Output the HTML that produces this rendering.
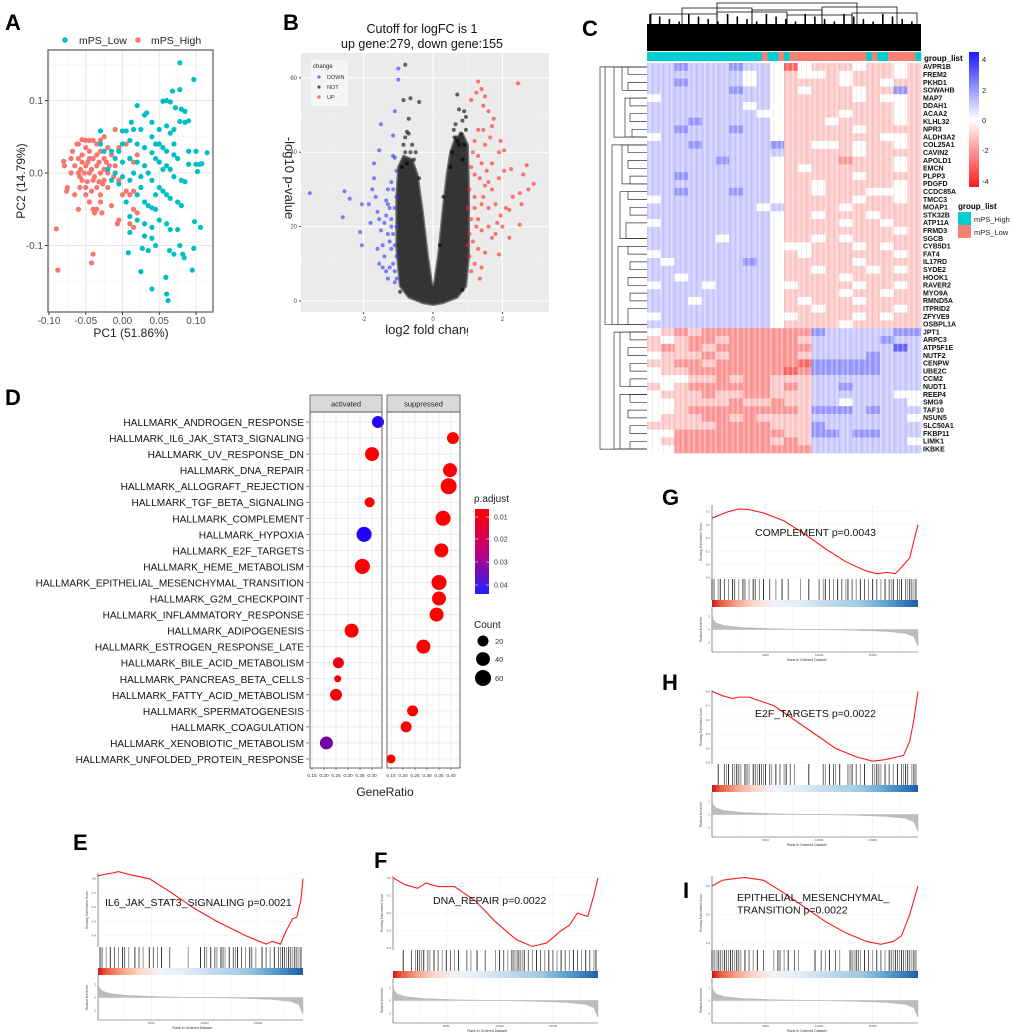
<!DOCTYPE html>
<html><head><meta charset="utf-8"><style>
html,body{margin:0;padding:0;background:#fff;}
svg{display:block;font-family:"Liberation Sans",Arial,sans-serif;}
</style></head><body>
<svg id="fig" width="1020" height="1032" viewBox="0 0 1020 1032" xmlns="http://www.w3.org/2000/svg">
<defs>
<linearGradient id="strip" x1="0" x2="1" y1="0" y2="0">
<stop offset="0" stop-color="#c8161d"/><stop offset="0.04" stop-color="#ee5a3e"/><stop offset="0.12" stop-color="#f7a488"/><stop offset="0.2" stop-color="#fbd6c6"/><stop offset="0.3" stop-color="#f4f2f6"/><stop offset="0.42" stop-color="#e3ecf7"/><stop offset="0.55" stop-color="#c6dbef"/><stop offset="0.72" stop-color="#9ecae1"/><stop offset="0.85" stop-color="#5a9fd0"/><stop offset="1" stop-color="#1c5fa8"/>
</linearGradient>
<linearGradient id="hmbar" x1="0" x2="0" y1="0" y2="1"><stop offset="0" stop-color="#1a1aff"/><stop offset="0.5" stop-color="#ffffff"/><stop offset="1" stop-color="#ff1a1a"/></linearGradient>
<linearGradient id="pbar" x1="0" x2="0" y1="0" y2="1"><stop offset="0" stop-color="#ff0000"/><stop offset="0.5" stop-color="#c0007a"/><stop offset="1" stop-color="#2020ff"/></linearGradient>
<clipPath id="volxclip"><rect x="385" y="318" width="83" height="20"/></clipPath>
<pattern id="hmtex" width="11" height="8" patternUnits="userSpaceOnUse"><rect x="0" y="0" width="1.5" height="8" fill="#fff" opacity="0.35"/><rect x="3" y="0" width="1" height="8" fill="#000" opacity="0.06"/><rect x="6" y="0" width="2" height="8" fill="#fff" opacity="0.2"/><rect x="9" y="0" width="1" height="8" fill="#000" opacity="0.04"/></pattern>
</defs>
</svg>
<script>
// ---------------- DATA ----------------
const pcaLow=[[0.078,0.152],[0.097,0.129],[0.068,0.113],[0.078,0.115],[0.055,0.099],[0.06,0.1],[0.065,0.098],[0.072,0.09],[0.08,0.088],[0.085,0.085],[0.02,0.093],[0.03,0.08],[0.033,0.083],[0.04,0.07],[0.05,0.06],[0.06,0.065],[0.065,0.055],[0.07,0.06],[0.085,0.07],[0.09,0.072],[0.078,0.071],[0.005,0.058],[0.0,0.058],[-0.03,0.058],[0.015,0.06],[0.025,0.06],[0.04,0.05],[0.05,0.04],[0.055,0.035],[0.06,0.03],[0.07,0.025],[0.075,0.02],[0.09,0.03],[0.1,0.03],[0.115,0.028],[0.09,0.012],[0.1,0.012],[0.105,0.012],[0.108,0.013],[0.102,0.002],[0.0,0.04],[0.01,0.045],[0.02,0.04],[0.03,0.035],[0.04,0.028],[0.045,0.02],[0.05,0.015],[0.06,0.01],[0.065,0.005],[0.07,-0.005],[0.08,-0.01],[0.085,-0.012],[0.01,0.02],[0.02,0.015],[0.03,0.01],[0.035,0.0],[0.04,-0.01],[0.05,-0.02],[0.055,-0.025],[0.06,-0.03],[0.065,-0.035],[0.075,-0.04],[0.08,-0.045],[0.03,-0.04],[0.035,-0.045],[0.04,-0.048],[0.045,-0.05],[0.02,-0.03],[0.025,-0.02],[0.01,-0.01],[0.0,-0.005],[-0.01,0.0],[-0.02,0.005],[-0.01,0.02],[0.0,0.015],[0.005,-0.04],[0.01,-0.06],[0.02,-0.065],[0.03,-0.07],[0.04,-0.075],[0.05,-0.065],[0.06,-0.07],[0.065,-0.078],[0.075,-0.078],[0.098,-0.067],[0.106,-0.075],[0.01,-0.082],[0.03,-0.087],[0.04,-0.09],[0.045,-0.1],[0.027,-0.104],[0.035,-0.107],[0.064,-0.107],[0.07,-0.112],[0.078,-0.1],[0.082,-0.112],[0.084,-0.117],[0.097,-0.104],[0.008,-0.11],[0.025,-0.136],[0.059,-0.144],[0.095,-0.134],[0.04,-0.16],[0.06,-0.167],[0.062,-0.176],[-0.015,0.03],[-0.025,0.03],[-0.03,0.04],[-0.005,0.03],[0.015,0.0],[0.025,-0.005],[-0.015,-0.01],[-0.005,-0.015],[0.012,0.07],[0.045,0.04],[0.055,0.005],[0.045,-0.03],[0.07,0.04]];
const pcaHigh=[[-0.09,-0.077],[-0.088,-0.134],[-0.04,-0.112],[-0.042,-0.124],[-0.075,-0.02],[-0.076,-0.025],[-0.08,0.016],[-0.079,0.01],[-0.07,0.02],[-0.068,0.03],[-0.065,0.01],[-0.06,0.0],[-0.06,0.02],[-0.06,0.04],[-0.055,0.046],[-0.055,-0.01],[-0.05,0.035],[-0.05,0.01],[-0.05,-0.02],[-0.05,-0.03],[-0.045,0.03],[-0.045,0.0],[-0.045,-0.04],[-0.04,0.045],[-0.04,0.02],[-0.04,-0.01],[-0.04,-0.05],[-0.035,0.04],[-0.035,0.01],[-0.035,-0.02],[-0.035,-0.05],[-0.03,0.03],[-0.03,0.0],[-0.03,-0.03],[-0.03,-0.04],[-0.025,0.02],[-0.025,-0.01],[-0.025,0.05],[-0.02,0.035],[-0.02,0.0],[-0.02,-0.02],[-0.015,0.025],[-0.015,-0.045],[-0.01,0.01],[-0.01,0.06],[-0.055,0.025],[-0.058,-0.02],[-0.065,-0.03],[-0.06,-0.05],[-0.038,-0.055],[-0.028,-0.055],[-0.005,-0.01],[0.0,-0.03],[0.005,-0.025],[0.01,-0.03],[0.015,-0.025],[0.01,0.02],[0.015,0.015],[0.02,0.025],[0.015,-0.05],[0.02,-0.055],[0.01,-0.07],[0.015,-0.075],[-0.005,-0.065],[-0.007,-0.07],[-0.062,0.04],[-0.07,0.0],[-0.052,0.0],[-0.047,0.015],[-0.042,0.005],[-0.032,0.015],[-0.022,0.015],[-0.018,0.01],[-0.012,-0.005],[-0.027,-0.015],[-0.042,-0.025],[-0.057,0.005],[-0.05,0.045],[-0.045,0.045],[-0.03,0.045],[-0.005,0.035],[0.005,0.04],[-0.055,0.015],[-0.045,0.02],[-0.035,0.025],[-0.025,0.005],[-0.038,-0.005],[-0.048,-0.012],[-0.058,-0.005],[-0.032,-0.012]];

const volDown=[[-3.55,29],[-2.55,29.5],[-2.6,22.5],[-2.1,18.5],[-2.05,26],[-2.4,27.5],[-2.05,15],[-1.7,37],[-1.55,40.5],[-1.5,47.5],[-1.7,33],[-1.75,30],[-1.65,28],[-1.6,24],[-1.55,22],[-1.5,19],[-1.45,15],[-1.55,10],[-1.35,27],[-1.3,26],[-1.25,25],[-1.2,22],[-1.2,20],[-1.15,18],[-1.1,15],[-1.05,12],[-1.3,30],[-1.2,32],[-1.1,38.5],[-1.15,39],[-1.15,44.5],[-1.1,51],[-1.0,59.5],[-1.0,62.5],[-1.05,35],[-1.3,18],[-1.25,16],[-1.2,14],[-1.15,10],[-1.1,8],[-1.05,6],[-1.4,12],[-1.45,9],[-1.35,8],[-1.25,9],[-1.4,21],[-1.35,23],[-1.05,28],[-1.1,25],[-1.05,20],[-1.15,30],[-1.8,21],[-1.85,26],[-1.6,14],[-1.3,6],[-1.1,5]];
const volUp=[[2.45,58.5],[1.3,59],[1.4,57],[1.25,56],[1.1,54],[1.5,55],[1.45,52.5],[1.6,51],[1.75,49],[1.9,40],[1.95,43],[2.05,40.5],[1.7,47],[1.45,46],[1.3,46],[1.2,43],[1.5,42],[1.65,44],[1.15,40],[1.3,39],[1.4,37],[1.55,35],[1.7,37],[1.1,36],[1.2,34],[1.35,33],[1.5,31],[1.7,30],[1.9,33],[2.05,35],[2.25,35.5],[2.7,36.5],[2.9,31.5],[2.6,34],[2.75,30],[2.5,29],[2.3,28],[2.1,25],[2.2,24.5],[1.05,30],[1.2,28],[1.4,26],[1.6,25],[1.8,26],[1.95,23],[1.1,22],[1.25,20],[1.4,19],[1.6,20],[1.8,18],[2.2,17],[2.55,26],[2.5,20.5],[1.05,18],[1.15,16],[1.3,14],[1.5,13],[1.7,17],[1.9,12.5],[1.05,12],[1.2,10],[1.4,9],[1.1,8],[1.35,6],[1.2,25],[1.3,22],[1.45,28],[1.6,32],[1.85,21],[2.0,20],[1.0,25],[1.0,15]];
const volNot=[[-0.8,63.5],[-0.65,54.5],[-0.85,54],[-0.4,53.5],[-0.7,49],[-0.75,45.5],[-0.8,44],[-0.7,45],[-0.6,42],[-0.8,40],[-0.65,40],[-0.55,38],[-0.75,37],[0.7,55.5],[0.75,51.5],[0.9,51],[0.95,49.5],[0.85,48.5],[0.65,47.5],[0.6,46],[0.95,46],[0.7,43],[0.75,42],[0.9,42],[0.55,40],[-0.95,2.5],[0.3,28],[0.2,15],[0.85,3],[-0.4,33],[-0.9,36],[0.85,38],[0.5,36],[-0.85,42],[-0.5,40],[0.62,44],[0.8,45]];
// dense-core envelope of the NOT cloud (logFC, -log10 p)
const volCore=[[-1.0,36],[-0.85,39],[-0.6,38],[-0.45,34],[-0.3,24],[-0.15,12],[-0.04,5],[0,4],[0.04,5],[0.15,12],[0.28,24],[0.4,34],[0.5,40],[0.65,44],[0.85,45],[1.0,42],[1.03,30],[1.03,12],[0.95,4],[0.7,1],[0.3,-0.5],[0,-1],[-0.3,-0.5],[-0.7,1],[-0.95,4],[-1.05,14],[-1.05,28]];

const genes=["AVPR1B","FREM2","PKHD1","SOWAHB","MAP7","DDAH1","ACAA2","KLHL32","NPR3","ALDH3A2","COL25A1","CAVIN2","APOLD1","EMCN","PLPP3","PDGFD","CCDC85A","TMCC3","MOAP1","STK32B","ATP11A","FRMD3","SGCB","CYB5D1","FAT4","IL17RD","SYDE2","HOOK1","RAVER2","MYO9A","RMND5A","ITPRID2","ZFYVE9","OSBPL1A","JPT1","ARPC3","ATP5F1E","NUTF2","CENPW","UBE2C","CCM2","NUDT1","REEP4","SMG9","TAF10","NSUN5","SLC50A1","FKBP11","LIMK1","IKBKE"];
// z-score per column block, encoded digit-3 (blue positive)
const heatRows=["44544454430322232232","44444443432332322232","44544443432222322322","44444454432322232252","34444444432222232332","44444443432222222232","44444444332222322232","44454444432223222232","44544454432222232222","34444444432222222332","44454444452233232232","44444444442222232222","44444544432222122232","44444444432322222232","44544444432222232222","44444444432232222232","44544454432232223332","34444444432222232232","44444444342222322222","44444444432232223222","34444444432222322322","44444444432222222232","44444344432232322222","44444444433322232322","34444444432322222232","43444445432222232222","44444444432232223232","44344444432222322222","34443444433222232232","44444444432222322322","44434444432322232222","44444444432232222232","34444444433222232322","44444444432222322222","32121111111154444455","23211211111244444544","21212111111144444464","32221211111244445444","22112111111055555444","32211111110155555444","33322121122244444444","23211111121244544444","32221221122244444433","33222212212244344443","33211111111255545444","32221121222244444443","22222111122254444444","33111111112255455444","32111111121244444443","33111111111144444444"];
const colGroups="HHHHHHHHHHHHHHHHHHHHHLHHLHLLLLLLLLLLLLLLHLHHLLLLLH";

const hmTerms=["HALLMARK_ANDROGEN_RESPONSE","HALLMARK_IL6_JAK_STAT3_SIGNALING","HALLMARK_UV_RESPONSE_DN","HALLMARK_DNA_REPAIR","HALLMARK_ALLOGRAFT_REJECTION","HALLMARK_TGF_BETA_SIGNALING","HALLMARK_COMPLEMENT","HALLMARK_HYPOXIA","HALLMARK_E2F_TARGETS","HALLMARK_HEME_METABOLISM","HALLMARK_EPITHELIAL_MESENCHYMAL_TRANSITION","HALLMARK_G2M_CHECKPOINT","HALLMARK_INFLAMMATORY_RESPONSE","HALLMARK_ADIPOGENESIS","HALLMARK_ESTROGEN_RESPONSE_LATE","HALLMARK_BILE_ACID_METABOLISM","HALLMARK_PANCREAS_BETA_CELLS","HALLMARK_FATTY_ACID_METABOLISM","HALLMARK_SPERMATOGENESIS","HALLMARK_COAGULATION","HALLMARK_XENOBIOTIC_METABOLISM","HALLMARK_UNFOLDED_PROTEIN_RESPONSE"];
const hmFacet=["a","s","a","s","s","a","s","a","s","a","s","s","s","a","s","a","a","a","s","s","a","s"];
const hmRatio=[0.425,0.408,0.40,0.396,0.39,0.39,0.367,0.367,0.36,0.36,0.35,0.35,0.34,0.315,0.285,0.26,0.257,0.25,0.24,0.213,0.21,0.15];
const hmCount=[26,26,41,41,59,15,50,50,41,50,50,41,41,41,41,20,4,26,20,20,33,10];
const hmPadj=[0.045,0.006,0.006,0.006,0.006,0.006,0.006,0.045,0.006,0.006,0.006,0.006,0.006,0.006,0.006,0.009,0.006,0.007,0.006,0.006,0.031,0.006];

const gseaNames=["IL6_JAK_STAT3_SIGNALING p=0.0021","DNA_REPAIR p=0.0022","COMPLEMENT p=0.0043","E2F_TARGETS p=0.0022","EPITHELIAL_MESENCHYMAL_\nTRANSITION p=0.0022"];
const esE=[[0,0.02],[0.03,0.03],[0.07,0.04],[0.1,0.05],[0.15,0.03],[0.25,0.0],[0.36,-0.1],[0.46,-0.2],[0.58,-0.3],[0.72,-0.4],[0.82,-0.46],[0.85,-0.44],[0.89,-0.46],[0.92,-0.36],[0.95,-0.28],[0.97,-0.27],[0.99,-0.15],[1.0,0.0]];
const esF=[[0,0],[0.06,-0.04],[0.12,-0.06],[0.16,-0.03],[0.22,-0.05],[0.3,-0.05],[0.4,-0.13],[0.5,-0.25],[0.6,-0.35],[0.68,-0.39],[0.75,-0.37],[0.82,-0.3],[0.86,-0.27],[0.9,-0.2],[0.95,-0.22],[0.98,-0.1],[1.0,0.0]];
const esG=[[0,0.05],[0.03,0.07],[0.08,0.1],[0.13,0.12],[0.18,0.115],[0.25,0.09],[0.35,0.03],[0.45,-0.07],[0.55,-0.18],[0.65,-0.28],[0.75,-0.35],[0.8,-0.37],[0.85,-0.36],[0.89,-0.37],[0.92,-0.32],[0.96,-0.25],[0.98,-0.12],[1.0,0.0]];
const esH=[[0,0],[0.05,-0.03],[0.1,-0.05],[0.13,-0.04],[0.18,-0.04],[0.3,-0.1],[0.4,-0.2],[0.5,-0.3],[0.6,-0.4],[0.7,-0.46],[0.78,-0.49],[0.84,-0.48],[0.9,-0.46],[0.93,-0.45],[0.96,-0.35],[0.98,-0.2],[1.0,0.0]];
const esI=[[0,0.0],[0.05,0.04],[0.1,0.05],[0.16,0.06],[0.25,0.04],[0.35,-0.05],[0.45,-0.15],[0.55,-0.25],[0.65,-0.33],[0.75,-0.39],[0.82,-0.41],[0.88,-0.39],[0.92,-0.35],[0.96,-0.2],[1.0,0.0]];
const hitsE=[0.01,0.02,0.04,0.06,0.08,0.1,0.12,0.13,0.15,0.18,0.2,0.22,0.25,0.27,0.29,0.31,0.35,0.44,0.5,0.52,0.53,0.55,0.57,0.58,0.6,0.61,0.62,0.64,0.66,0.67,0.68,0.7,0.72,0.74,0.75,0.77,0.8,0.82,0.84,0.86,0.88,0.89,0.9,0.91,0.92,0.93,0.94,0.95,0.96,0.97,0.98,0.99];
const hitsF=[0.05,0.09,0.11,0.12,0.13,0.14,0.15,0.17,0.18,0.2,0.22,0.24,0.26,0.28,0.3,0.32,0.36,0.38,0.41,0.45,0.5,0.52,0.54,0.56,0.58,0.59,0.6,0.61,0.62,0.63,0.64,0.66,0.68,0.7,0.72,0.74,0.76,0.78,0.8,0.82,0.84,0.86,0.88,0.9,0.92,0.94,0.96,0.98,0.99];
const hitsG=[0.0,0.01,0.03,0.04,0.06,0.08,0.1,0.11,0.13,0.15,0.16,0.18,0.2,0.21,0.23,0.25,0.28,0.31,0.34,0.37,0.43,0.47,0.52,0.54,0.55,0.57,0.59,0.61,0.63,0.65,0.66,0.68,0.7,0.72,0.74,0.76,0.78,0.8,0.82,0.84,0.86,0.87,0.88,0.9,0.91,0.92,0.94,0.95,0.96,0.97,0.98,0.99];
const hitsH=[0.03,0.06,0.07,0.08,0.1,0.11,0.12,0.13,0.14,0.16,0.17,0.18,0.2,0.21,0.22,0.23,0.24,0.25,0.26,0.28,0.29,0.31,0.33,0.35,0.36,0.38,0.4,0.47,0.54,0.55,0.57,0.59,0.6,0.62,0.66,0.67,0.68,0.7,0.72,0.74,0.78,0.79,0.8,0.81,0.82,0.84,0.86,0.88,0.9,0.92,0.93,0.94,0.95,0.97,0.98,0.99];
const hitsI=[0.0,0.01,0.02,0.03,0.04,0.05,0.06,0.07,0.08,0.09,0.1,0.11,0.12,0.13,0.14,0.16,0.18,0.2,0.22,0.25,0.3,0.32,0.33,0.35,0.37,0.4,0.42,0.5,0.53,0.55,0.57,0.6,0.62,0.67,0.68,0.69,0.7,0.71,0.72,0.74,0.76,0.78,0.8,0.82,0.84,0.86,0.87,0.88,0.89,0.9,0.91,0.92,0.93,0.94,0.95,0.96,0.97,0.98,0.99];
const rankMetric=[[0,2.6],[0.005,1.6],[0.02,1.0],[0.06,0.6],[0.15,0.3],[0.3,0.12],[0.5,0.0],[0.7,-0.12],[0.85,-0.3],[0.94,-0.6],[0.98,-1.1],[1,-2.6]];

// ---------------- HELPERS ----------------
const NS='http://www.w3.org/2000/svg';
const svg=document.getElementById('fig');
function el(tag,attrs,parent){const e=document.createElementNS(NS,tag);for(const k in attrs)e.setAttribute(k,attrs[k]);(parent||svg).appendChild(e);return e;}
function txt(x,y,s,size,anchor,fill,parent,extra){const t=el('text',Object.assign({x:x,y:y,'font-size':size,'text-anchor':anchor||'start',fill:fill||'#000'},extra||{}),parent);t.textContent=s;return t;}
function grp(name){const g=el('g',{});return g;}

// panel letters
[["A",5,30],["B",283,30],["C",582,36],["D",5,405],["E",73,850],["F",374,868],["G",662,505],["H",662,690],["I",683,898]].forEach(function(p){
  const t=txt(p[1],p[2],p[0],22,'start','#000',svg,{'font-weight':'bold'});
  
  
});

// ---------------- PANEL A: PCA ----------------
(function(){
  const g=grp('pca-plot');
  const L=48,R=213,T=50,B=312;
  const xs=v=>49+(v+0.1)/0.2*147, ys=v=>173-v/0.1*72.5;
  const bg=el('rect',{x:L,y:T,width:R-L,height:B-T,fill:'#fff'},g);
  
  
  [-0.075,-0.025,0.025,0.075].forEach(v=>el('line',{x1:xs(v),x2:xs(v),y1:T,y2:B,stroke:'#f2f2f2','stroke-width':0.6},g));
  [-0.15,-0.05,0.05,0.15].forEach(v=>el('line',{x1:L,x2:R,y1:ys(v),y2:ys(v),stroke:'#f2f2f2','stroke-width':0.6},g));
  const xt=[-0.1,-0.05,0,0.05,0.1], xl=["-0.10","-0.05","0.00","0.05","0.10"];
  xt.forEach((v,i)=>{el('line',{x1:xs(v),x2:xs(v),y1:T,y2:B,stroke:'#e8e8e8','stroke-width':1},g);el('line',{x1:xs(v),x2:xs(v),y1:B,y2:B+3,stroke:'#333'},g);const t=txt(xs(v),B+12,xl[i],10,'middle','#4d4d4d',g);});
  const yt=[-0.1,0,0.1], yl=["-0.1","0.0","0.1"];
  yt.forEach((v,i)=>{el('line',{x1:L,x2:R,y1:ys(v),y2:ys(v),stroke:'#e8e8e8','stroke-width':1},g);el('line',{x1:L-3,x2:L,y1:ys(v),y2:ys(v),stroke:'#333'},g);const t=txt(L-5,ys(v)+3.5,yl[i],10,'end','#4d4d4d',g);});
  pcaHigh.forEach(p=>{const c=el('circle',{cx:xs(p[0]),cy:ys(p[1]),r:2.6,fill:'#f8766d'},g);
    
    });
  pcaLow.forEach(p=>{const c=el('circle',{cx:xs(p[0]),cy:ys(p[1]),r:2.6,fill:'#00bfc4'},g);
    
    });
  const fr=el('rect',{x:L,y:T,width:R-L,height:B-T,fill:'none',stroke:'#666','stroke-width':1.3},g);
  
  
  const lg=grp('pca-legend');
  el('circle',{cx:65,cy:40,r:2.8,fill:'#00bfc4'},lg);txt(79,44,'mPS_Low',10.5,'start','#222',lg);
  el('circle',{cx:138,cy:40,r:2.8,fill:'#f8766d'},lg);txt(151,44,'mPS_High',10.5,'start','#222',lg);
  const xt2=txt(131,337,'PC1 (51.86%)',12,'middle','#222',g);
  
  
  const yt2=txt(0,0,'PC2 (14.79%)',12,'middle','#222',g,{transform:'translate(25,181) rotate(-90)'});
  
  
})();

// ---------------- PANEL B: Volcano ----------------
(function(){
  const g=grp('volcano-plot');
  const L=301,R=549,T=53,B=312;
  const xs=v=>433+v*34.7, ys=v=>301-v*3.72;
  const bg=el('rect',{x:L,y:T,width:R-L,height:B-T,fill:'#ebebeb'},g);
  
  
  [-3,-1,1,3].forEach(v=>el('line',{x1:xs(v),x2:xs(v),y1:T,y2:B,stroke:'#f5f5f5','stroke-width':0.5},g));
  [10,30,50].forEach(v=>el('line',{x1:L,x2:R,y1:ys(v),y2:ys(v),stroke:'#f5f5f5','stroke-width':0.5},g));
  [-2,0,2].forEach(v=>{el('line',{x1:xs(v),x2:xs(v),y1:T,y2:B,stroke:'#fff','stroke-width':1},g);el('line',{x1:xs(v),x2:xs(v),y1:B,y2:B+2,stroke:'#444'},g);const t=txt(xs(v),B+9,String(v),6,'middle','#4d4d4d',g);});
  [0,20,40,60].forEach(v=>{el('line',{x1:L,x2:R,y1:ys(v),y2:ys(v),stroke:'#fff','stroke-width':1},g);el('line',{x1:L-2,x2:L,y1:ys(v),y2:ys(v),stroke:'#444'},g);const t=txt(L-4,ys(v)+2,String(v),6,'end','#4d4d4d',g);});
  const core=el('polygon',{points:volCore.map(p=>xs(p[0])+','+ys(p[1])).join(' '),fill:'#1a1a1a','fill-opacity':0.88,stroke:'#444','stroke-width':2.5,'stroke-opacity':0.7,'stroke-linejoin':'round'},g);
  
  
  volNot.forEach(p=>{const c=el('circle',{cx:xs(p[0]),cy:ys(p[1]),r:2,fill:'#000','fill-opacity':0.6},g);
    
    });
  volDown.forEach(p=>{const c=el('circle',{cx:xs(p[0]),cy:ys(p[1]),r:2,fill:'#3333ff','fill-opacity':0.6},g);
    
    });
  volUp.forEach(p=>{const c=el('circle',{cx:xs(p[0]),cy:ys(p[1]),r:2,fill:'#ff2222','fill-opacity':0.6},g);
    
    });
  const lg=grp('volcano-legend');
  el('rect',{x:311,y:60,width:37,height:46,fill:'#f5f5f5'},lg);
  txt(313,68,'change',6,'start','#222',lg);
  [['DOWN','#6b6bff',77],['NOT','#555',87],['UP','#ff6b6b',97]].forEach(e=>{el('circle',{cx:319,cy:e[2],r:1.6,fill:e[1]},lg);txt(327,e[2]+2,e[0],5.5,'start','#333',lg);});
  const t1=txt(422,33,'Cutoff for logFC is 1',12.5,'middle','#111',g);
  
  
  const t2=txt(422,48,'up gene:279, down gene:155',12.5,'middle','#111',g);
  
  
  const xt=txt(433,334,'log2 fold change',13,'middle','#222',g,{'clip-path':'url(#volxclip)'});
  
  
  const yt=txt(0,0,'-log10 p-value',13,'middle','#222',g,{transform:'translate(285,178) rotate(90)'});
  
  
})();

// ---------------- PANEL C: Heatmap ----------------
(function(){
  const g=grp('heatmap');
  const L=647,R=921,T=63,B=453;
  const nR=genes.length, nC=heatRows[0].length;
  const rh=(B-T)/nR, cw=(R-L)/nC;
  function col(v){const a=Math.min(1,Math.abs(v)/4);
    if(v>=0){const c=Math.round(255*(1-a));return 'rgb('+c+','+c+',255)';}
    const c=Math.round(255*(1-a));return 'rgb(255,'+c+','+c+')';}
  heatRows.forEach((row,i)=>{
    for(let j=0;j<nC;j++){
      const v=(parseInt(row[j])-3)*0.8;
      const r=el('rect',{x:L+j*cw,y:T+i*rh,width:cw+0.3,height:rh+0.3,fill:col(v)},g);
      
      
    }
    const t=txt(R+2,T+i*rh+rh*0.8,genes[i],7,'start','#111',g,{'font-weight':'bold'});
    
    
  });
  el('rect',{x:L,y:T,width:R-L,height:B-T,fill:'url(#hmtex)'},g);
  const ng=colGroups.length, aw=(R-L)/ng;
  for(let j=0;j<ng;j++){
    const r=el('rect',{x:L+j*aw,y:52,width:aw+0.3,height:9,fill:colGroups[j]==='H'?'#00ced1':'#fa8072'},g);
    
    
  }
  const dg=grp('column-dendrogram');
  el('rect',{x:L,y:24,width:R-L,height:27,fill:'#000'},dg);
  for(let k=0;k<28;k++){const x=L+3+k*9.7;el('line',{x1:x,x2:x,y1:14+(k%4)*2.5,y2:26,stroke:'#000','stroke-width':1.6},dg);}
  const br=[[L+4,L+70,14],[L+70,L+140,12],[L+140,L+205,15],[L+205,R-4,13],[L+35,L+105,8],[L+105,L+175,10],[L+175,L+250,7],[L+70,L+210,3]];
  br.forEach(b=>el('path',{d:'M'+b[0]+',24 V'+b[2]+' H'+b[1]+' V24',fill:'none',stroke:'#000','stroke-width':0.8},dg));
  const rg=grp('row-dendrogram');
  function yr(i){return T+(i+0.5)*rh;}
  const rb=[[0,1,628],[2,3,628],[4,5,630],[6,7,630],[8,9,632],[0,3,622],[4,9,625],[10,11,628],[12,13,628],[14,15,630],[10,15,622],[16,17,628],[18,19,630],[20,22,626],[16,22,620],[23,24,628],[25,26,630],[27,28,628],[29,30,630],[31,33,628],[23,33,618],[0,9,614],[10,33,612],[0,33,605],[34,35,630],[36,37,628],[38,39,630],[40,41,630],[34,41,620],[42,43,630],[44,45,628],[46,47,630],[48,49,630],[42,49,620],[34,49,614],[0,49,600]];
  rb.forEach(b=>el('path',{d:'M'+L+','+yr(b[0])+' H'+b[2]+' V'+yr(b[1])+' H'+L,fill:'none',stroke:'#333','stroke-width':0.7},rg));
  const lg=grp('heatmap-legend');
  txt(924,61,'group_list',8,'start','#000',lg,{'font-weight':'bold'});
  el('rect',{x:969,y:52,width:10,height:135,fill:'url(#hmbar)'},lg);
  [['4',59],['2',90],['0',120],['-2',150],['-4',181]].forEach(e=>txt(982,e[1]+3,e[0],7.5,'start','#222',lg));
  txt(958,209,'group_list',8,'start','#000',lg,{'font-weight':'bold'});
  el('rect',{x:958,y:212,width:13,height:13,fill:'#00ced1'},lg);
  el('rect',{x:958,y:225,width:13,height:13,fill:'#fa8072'},lg);
  txt(974,222,'mPS_High',7.5,'start','#222',lg);
  txt(974,235,'mPS_Low',7.5,'start','#222',lg);
})();

// ---------------- PANEL D: dot plot ----------------
(function(){
  const g=grp('enrichment-dotplot');
  const T=412,B=768, rowY0=422, rowStep=(759-422)/21;
  const facets={a:{L:310,R:382,x0:312},s:{L:387,R:460,x0:391}};
  const xsF=(f,v)=>facets[f].x0+(v-0.15)*240;
  const ticks=[0.15,0.2,0.25,0.3,0.35,0.4], tl=["0.15","0.20","0.25","0.30","0.35","0.40"];
  Object.keys(facets).forEach(k=>{
    const f=facets[k];
    const bg=el('rect',{x:f.L,y:T,width:f.R-f.L,height:B-T,fill:'#fff'},g);
    
    
    ticks.forEach(v=>el('line',{x1:xsF(k,v+0.025),x2:xsF(k,v+0.025),y1:T,y2:B,stroke:'#f3f3f3','stroke-width':0.5},g));
    ticks.forEach((v,i)=>{el('line',{x1:xsF(k,v),x2:xsF(k,v),y1:T,y2:B,stroke:'#e6e6e6','stroke-width':0.8},g);
      el('line',{x1:xsF(k,v),x2:xsF(k,v),y1:B,y2:B+2,stroke:'#333','stroke-width':0.6},g);
      const t=txt(xsF(k,v),B+9,tl[i],4.8,'middle','#333',g);});
    hmTerms.forEach((_,i)=>el('line',{x1:f.L,x2:f.R,y1:rowY0+i*rowStep,y2:rowY0+i*rowStep,stroke:'#e6e6e6','stroke-width':0.8},g));
    const st=el('rect',{x:f.L,y:395,width:f.R-f.L,height:17,fill:'#d9d9d9',stroke:'#555','stroke-width':0.8},g);
    
    
    txt((f.L+f.R)/2,406.5,k==='a'?'activated':'suppressed',7.5,'middle','#222',g);
  });
  function pcol(p){const a=Math.max(0,Math.min(1,(p-0.006)/0.039));
    return 'rgb('+Math.round(255*(1-a)+32*a)+',0,'+Math.round(255*a)+')';}
  function rad(c){return 2+Math.sqrt(c)*0.78;}
  hmTerms.forEach((name,i)=>{
    const y=rowY0+i*rowStep;
    el('line',{x1:306,x2:309,y1:y,y2:y,stroke:'#333','stroke-width':0.6},g);
    const t=txt(304,y+4,name,10.15,'end','#111',g);
    
    
    const f=hmFacet[i];
    const c=el('circle',{cx:xsF(f,hmRatio[i]),cy:y,r:rad(hmCount[i]),fill:pcol(hmPadj[i])},g);
    
    
  });
  Object.keys(facets).forEach(k=>{const f=facets[k];el('rect',{x:f.L,y:T,width:f.R-f.L,height:B-T,fill:'none',stroke:'#555','stroke-width':0.9},g);});
  const xt=txt(385,796,'GeneRatio',12,'middle','#222',g);
  
  
  const lg=grp('dotplot-legend');
  txt(474,502,'p.adjust',10,'start','#222',lg);
  el('rect',{x:475,y:509,width:14,height:85,fill:'url(#pbar)'},lg);
  [['0.01',517],['0.02',539],['0.03',562],['0.04',585]].forEach(e=>{txt(494,e[1]+2.5,e[0],7,'start','#333',lg);el('line',{x1:475,x2:478,y1:e[1],y2:e[1],stroke:'#fff','stroke-width':0.6},lg);el('line',{x1:486,x2:489,y1:e[1],y2:e[1],stroke:'#fff','stroke-width':0.6},lg);});
  txt(474,628,'Count',10,'start','#222',lg);
  [[20,641],[40,659],[60,678]].forEach(e=>{el('circle',{cx:483,cy:e[1],r:rad(e[0]),fill:'#000'},lg);txt(495,e[1]+3,String(e[0]),7.5,'start','#333',lg);});
})();

// ---------------- GSEA panels ----------------
const gseaPanels=[
  {id:'e',x0:98,x1:303,top:873,esMax:0.04,esMin:-0.48,esTicks:[0,-0.1,-0.2,-0.3,-0.4],es:esE,hits:hitsE,name:gseaNames[0],tx:105,ty:906},
  {id:'f',x0:393,x1:598,top:876,esMax:0.01,esMin:-0.41,esTicks:[0,-0.1,-0.2,-0.3,-0.4],es:esF,hits:hitsF,name:gseaNames[1],tx:433,ty:904},
  {id:'g',x0:712,x1:918,top:505,esMax:0.15,esMin:-0.41,esTicks:[0.1,0,-0.1,-0.2,-0.3,-0.4],es:esG,hits:hitsG,name:gseaNames[2],tx:755,ty:536},
  {id:'h',x0:712,x1:918,top:690,esMax:0.01,esMin:-0.51,esTicks:[0,-0.1,-0.2,-0.3,-0.4,-0.5],es:esH,hits:hitsH,name:gseaNames[3],tx:755,ty:717},
  {id:'i',x0:712,x1:918,top:876,esMax:0.07,esMin:-0.45,esTicks:[0,-0.2,-0.4],es:esI,hits:hitsI,name:gseaNames[4],tx:737,ty:901}
];
gseaPanels.forEach(P=>{
  const g=grp('gsea-plot-'+P.id);
  const W=P.x1-P.x0, xs=f=>P.x0+f*W;
  const esTop=P.top, esBot=P.top+74, hitBot=esBot+21, stripBot=hitBot+7, mBot=stripBot+45;
  const ys=v=>esTop+(P.esMax-v)/(P.esMax-P.esMin)*74;
  const ms=v=>(stripBot+mBot)/2-v*6.5;
  [0.26,0.52,0.78].forEach(f=>{el('line',{x1:xs(f),x2:xs(f),y1:esTop,y2:esBot,stroke:'#ececec','stroke-width':0.6},g);el('line',{x1:xs(f),x2:xs(f),y1:stripBot,y2:mBot,stroke:'#ececec','stroke-width':0.6},g);});
  [0.13,0.39,0.65,0.91].forEach(f=>{el('line',{x1:xs(f),x2:xs(f),y1:stripBot,y2:mBot,stroke:'#f4f4f4','stroke-width':0.5},g);});
  el('line',{x1:P.x0,x2:P.x0,y1:esTop,y2:esBot,stroke:'#444','stroke-width':0.6},g);
  el('line',{x1:P.x0,x2:P.x0,y1:stripBot,y2:mBot,stroke:'#444','stroke-width':0.6},g);
  el('line',{x1:P.x0,x2:P.x1,y1:mBot,y2:mBot,stroke:'#444','stroke-width':0.6},g);
  P.esTicks.forEach(v=>{el('line',{x1:P.x0,x2:P.x1,y1:ys(v),y2:ys(v),stroke:'#f0f0f0','stroke-width':0.5},g);txt(P.x0-2,ys(v)+1,v.toFixed(1),3,'end','#555',g);});
  const ylab=txt(0,0,'Running Enrichment Score',3.2,'middle','#444',g,{transform:'translate('+(P.x0-10)+','+(esTop+37)+') rotate(-90)'});
  
  
  const line=el('polyline',{points:P.es.map(p=>xs(p[0])+','+ys(p[1])).join(' '),fill:'none',stroke:'#ff1a1a','stroke-width':1.1},g);
  
  
  P.hits.forEach((h,k)=>{const l=el('line',{x1:xs(h),x2:xs(h),y1:esBot,y2:hitBot,stroke:k%3===0?'#222':(k%3===1?'#555':'#888'),'stroke-width':0.9},g);
    
    });
  const st=el('rect',{x:P.x0,y:hitBot,width:W,height:stripBot-hitBot,fill:'url(#strip)'},g);
  
  
  const area='M'+xs(0)+','+ms(0)+' '+rankMetric.map(p=>'L'+xs(p[0])+','+ms(p[1])).join(' ')+' L'+xs(1)+','+ms(0)+' Z';
  const ar=el('path',{d:area,fill:'#bdbdbd',stroke:'#aaa','stroke-width':0.4},g);
  
  
  [2,0,-2].forEach(v=>txt(P.x0-2,ms(v)+1,String(v),3,'end','#555',g));
  const ml=txt(0,0,'Ranked list metric',3.2,'middle','#444',g,{transform:'translate('+(P.x0-10)+','+((stripBot+mBot)/2)+') rotate(-90)'});
  
  
  [['5000',0.26],['10000',0.52],['15000',0.78]].forEach(e=>txt(xs(e[1]),mBot+4,e[0],3,'middle','#555',g));
  const xl=txt(P.x0+W*0.46,mBot+9,'Rank in Ordered Dataset',3.6,'middle','#333',g);
  
  
  P.name.split('\n').forEach((s,k)=>{const t=txt(P.tx,P.ty+k*12.5,s,10.5,'start','#111',g);
    
    });
});
</script>
</body></html>
